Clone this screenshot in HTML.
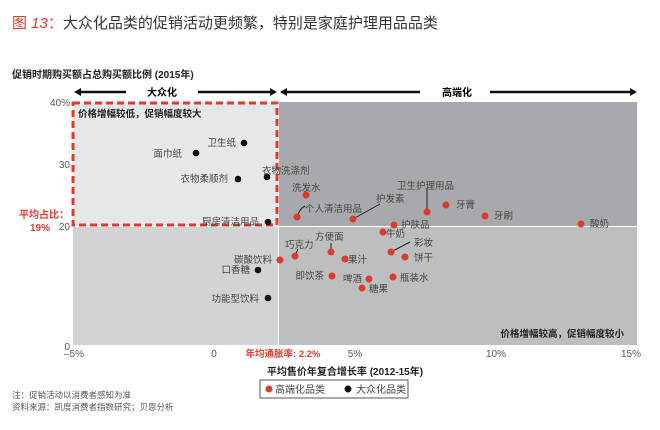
<!DOCTYPE html><html><head><meta charset="utf-8"><style>
body{margin:0;background:#fff;width:660px;height:425px;overflow:hidden;font-family:"Liberation Sans","Noto Sans CJK SC",sans-serif}
</style></head><body>
<svg width="660" height="425" xmlns="http://www.w3.org/2000/svg" font-family="Liberation Sans, Noto Sans CJK SC, sans-serif">
<text x="12" y="28" font-size="15" fill="#e03a2f">图 <tspan font-style="italic">13</tspan>：<tspan fill="#333">大众化品类的促销活动更频繁，特别是家庭护理用品品类</tspan></text>
<text x="12" y="78" font-size="10" font-weight="bold" fill="#222">促销时期购买额占总购买额比例 (2015年)</text>
<g stroke="#111" stroke-width="2.5" fill="#111">
<line x1="80" y1="92" x2="126" y2="92"/><polygon points="74,92 81,88 81,96" stroke="none"/>
<line x1="198" y1="92" x2="270" y2="92"/><polygon points="277,92 270,88 270,96" stroke="none"/>
<line x1="287" y1="92" x2="420" y2="92"/><polygon points="280,92 287,88 287,96" stroke="none"/>
<line x1="490" y1="92" x2="630" y2="92"/><polygon points="637,92 630,88 630,96" stroke="none"/>
</g>
<text x="162" y="96" font-size="10" font-weight="bold" text-anchor="middle">大众化</text>
<text x="457" y="96" font-size="10" font-weight="bold" text-anchor="middle">高端化</text>
<rect x="73" y="102" width="205" height="124" fill="#e6e7e8"/>
<rect x="278" y="102" width="359" height="124" fill="#a7a9ac"/>
<rect x="73" y="226" width="205" height="119" fill="#d1d3d4"/>
<rect x="278" y="226" width="359" height="119" fill="#bcbec0"/>
<line x1="73" y1="226.5" x2="637" y2="226.5" stroke="#fff" stroke-width="1"/>
<line x1="278.5" y1="102" x2="278.5" y2="345" stroke="#fff" stroke-width="1"/>
<rect x="73" y="103" width="204" height="122" fill="none" stroke="#e03a2f" stroke-width="3" stroke-dasharray="7,4"/>
<text x="78" y="117" font-size="9.5" font-weight="bold" fill="#222">价格增幅较低，促销幅度较大</text>
<text x="624" y="337" font-size="9.5" font-weight="bold" fill="#222" text-anchor="end">价格增幅较高，促销幅度较小</text>
<g font-size="10" fill="#555" text-anchor="end">
<text x="70" y="106">40%</text><text x="70" y="168">30</text><text x="70" y="230">20</text><text x="70" y="350">0</text>
</g>
<text x="44" y="218" font-size="10" font-weight="bold" fill="#e03a2f" text-anchor="middle">平均占比：</text>
<text x="40" y="231" font-size="10" font-weight="bold" fill="#e03a2f" text-anchor="middle">19%</text>
<g font-size="10" fill="#555" text-anchor="middle">
<text x="74" y="357">–5%</text><text x="214" y="357">0</text><text x="355" y="357">5%</text><text x="496" y="357">10%</text><text x="631" y="357">15%</text>
</g>
<text x="283" y="357" font-size="9.5" font-weight="bold" fill="#e03a2f" text-anchor="middle">年均通胀率: 2.2%</text>
<text x="345" y="375" font-size="10" font-weight="bold" fill="#222" text-anchor="middle">平均售价年复合增长率 (2012-15年)</text>
<rect x="260" y="380" width="148" height="18" fill="#fff" stroke="#555" stroke-width="1"/>
<circle cx="269" cy="389" r="3.5" fill="#e03a2f"/><text x="275" y="393" font-size="10" fill="#444">高端化品类</text>
<circle cx="348" cy="389" r="3.5" fill="#111"/><text x="356" y="393" font-size="10" fill="#444">大众化品类</text>
<text x="12" y="398" font-size="8.5" fill="#555">注：促销活动以消费者感知为准</text>
<text x="12" y="410" font-size="8.5" fill="#555">资料来源：凯度消费者指数研究；贝恩分析</text>
<g stroke="#222" stroke-width="1" fill="none">
<path d="M297,217 Q300,208 305,206"/><path d="M353,219 L380,204"/><path d="M427,212 L427,188"/><path d="M391,252 L410,242"/><path d="M331,252 L331,243"/><path d="M295,256 L298,249"/>
</g>
<g fill="#111">
<circle cx="244" cy="143" r="3.3"/><circle cx="196" cy="153" r="3.3"/><circle cx="238" cy="179" r="3.3"/><circle cx="267" cy="177" r="3.3"/><circle cx="268" cy="222" r="3.3"/><circle cx="258" cy="270" r="3.3"/><circle cx="268" cy="298" r="3.3"/>
</g>
<g fill="#e03a2f">
<circle cx="306" cy="195" r="3.5"/><circle cx="297" cy="217" r="3.5"/><circle cx="353" cy="219" r="3.5"/><circle cx="427" cy="212" r="3.5"/><circle cx="446" cy="205" r="3.5"/><circle cx="485" cy="216" r="3.5"/><circle cx="581" cy="224" r="3.5"/><circle cx="394" cy="225" r="3.5"/><circle cx="383" cy="232" r="3.5"/><circle cx="331" cy="252" r="3.5"/><circle cx="295" cy="256" r="3.5"/><circle cx="280" cy="260" r="3.5"/><circle cx="345" cy="259" r="3.5"/><circle cx="391" cy="252" r="3.5"/><circle cx="405" cy="257" r="3.5"/><circle cx="332" cy="276" r="3.5"/><circle cx="369" cy="279" r="3.5"/><circle cx="393" cy="277" r="3.5"/><circle cx="362" cy="288" r="3.5"/>
</g>
<g font-size="9.5" fill="#444">
<text x="236" y="146" text-anchor="end">卫生纸</text><text x="182" y="157" text-anchor="end">面巾纸</text><text x="228" y="182" text-anchor="end">衣物柔顺剂</text><text x="262" y="174">衣物洗涤剂</text><text x="259" y="225" text-anchor="end">厨房清洁用品</text>
<text x="272" y="263" text-anchor="end">碳酸饮料</text><text x="250" y="273" text-anchor="end">口香糖</text><text x="259" y="302" text-anchor="end">功能型饮料</text>
<text x="292" y="191">洗发水</text><text x="305" y="212">个人清洁用品</text><text x="376" y="202">护发素</text><text x="397" y="189">卫生护理用品</text><text x="456" y="208">牙膏</text><text x="494" y="219">牙刷</text><text x="590" y="227">酸奶</text>
<text x="401" y="228">护肤品</text><text x="386" y="237">牛奶</text><text x="315" y="240">方便面</text><text x="285" y="248">巧克力</text><text x="348" y="263">果汁</text><text x="414" y="246">彩妆</text><text x="414" y="261">饼干</text>
<text x="324" y="279" text-anchor="end">即饮茶</text><text x="362" y="282" text-anchor="end">啤酒</text><text x="400" y="281">瓶装水</text><text x="369" y="292">糖果</text>
</g>
</svg></body></html>
